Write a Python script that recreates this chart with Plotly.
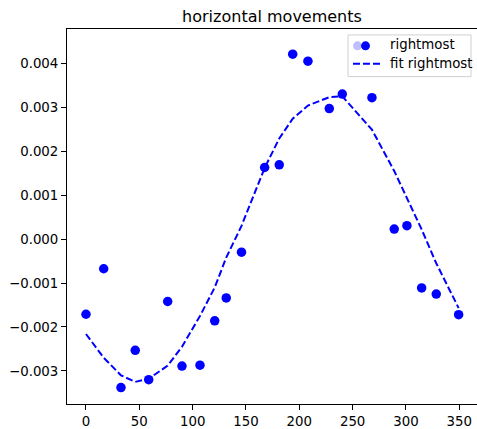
import plotly.graph_objects as go

# Sampled horizontal displacement of the rightmost point
x_pts = [0, 16.6, 32.8, 46.2, 58.8, 76.6, 90.0, 106.9, 120.7, 131.5, 145.8, 167.5,
         181.2, 193.8, 208.1, 228.1, 240.3, 268.1, 289.0, 300.9, 314.7, 328.4, 349.4]
y_pts = [-0.00171, -0.000675, -0.00338, -0.00253, -0.00320, -0.00142, -0.00289,
         -0.00287, -0.00186, -0.00134, -0.000298, 0.00163, 0.00169, 0.00421,
         0.00405, 0.00297, 0.00330, 0.00322, 0.000228, 0.000305, -0.00111,
         -0.00125, -0.00172]

# Fitted curve evaluated at the same sample positions
y_fit = [-0.00216, -0.00270, -0.00310, -0.00325, -0.00318, -0.00288, -0.00245,
         -0.00175, -0.00110, -0.00042, 0.00030, 0.00162, 0.00229, 0.00274,
         0.00304, 0.00323, 0.00325, 0.00249, 0.00155, 0.00094, 0.00022,
         -0.00055, -0.00157]

x_ticks = [0, 50, 100, 150, 200, 250, 300, 350]
y_ticks = [-0.003, -0.002, -0.001, 0.0, 0.001, 0.002, 0.003, 0.004]
y_tick_labels = ["\u22120.003", "\u22120.002", "\u22120.001", "0.000",
                 "0.001", "0.002", "0.003", "0.004"]

W, H = 477, 429
L, R, T, B = 67, 0, 29, 22
PW, PH = W - L - R, H - T - B
FONT = "DejaVu Sans"
FS = 13.33
DASH = "7px,3px"


def px_x(px):
    return (px - L) / PW


def px_y(py):
    return (H - B - py) / PH


fig = go.Figure()
fig.add_trace(go.Scatter(x=x_pts, y=y_pts, mode="markers", name="rightmost",
                         marker=dict(color="blue", size=9.5, line=dict(width=0))))
fig.add_trace(go.Scatter(x=x_pts, y=y_fit, mode="lines", name="fit rightmost",
                         line=dict(color="blue", width=2, dash=DASH)))

# Legend box drawn in the upper-right corner of the axes
shapes = [
    dict(type="rect", xref="paper", yref="paper",
         x0=px_x(348), x1=px_x(471), y0=px_y(77), y1=px_y(35),
         line=dict(color="#d0d0d0", width=1), fillcolor="rgba(255,255,255,0.8)",
         layer="above"),
    dict(type="circle", xref="paper", yref="paper", xsizemode="pixel",
         ysizemode="pixel", xanchor=px_x(357.5), yanchor=px_y(46),
         x0=-4.5, x1=4.5, y0=-4.5, y1=4.5,
         fillcolor="rgba(0,0,255,0.25)", line=dict(width=0), layer="above"),
    dict(type="circle", xref="paper", yref="paper", xsizemode="pixel",
         ysizemode="pixel", xanchor=px_x(365.5), yanchor=px_y(46),
         x0=-4.5, x1=4.5, y0=-4.5, y1=4.5,
         fillcolor="blue", line=dict(width=0), layer="above"),
    dict(type="line", xref="paper", yref="paper",
         x0=px_x(353), x1=px_x(380), y0=px_y(64), y1=px_y(64),
         line=dict(color="blue", width=2, dash=DASH), layer="above"),
]
annotations = [
    dict(text="rightmost", xref="paper", yref="paper", x=px_x(388), y=px_y(45),
         xanchor="left", yanchor="middle", showarrow=False,
         font=dict(family=FONT, size=FS, color="black")),
    dict(text="fit rightmost", xref="paper", yref="paper", x=px_x(388), y=px_y(63.5),
         xanchor="left", yanchor="middle", showarrow=False,
         font=dict(family=FONT, size=FS, color="black")),
]

fig.update_layout(
    width=W, height=H,
    margin=dict(l=L, r=R, t=T, b=B, pad=0),
    paper_bgcolor="white", plot_bgcolor="white",
    showlegend=False,
    font=dict(family=FONT, size=FS, color="black"),
    title=dict(text="horizontal movements", x=0.5, xref="paper",
               y=1 - 16 / H, yref="container", xanchor="center", yanchor="middle",
               font=dict(family=FONT, size=16, color="black")),
    shapes=shapes,
    annotations=annotations,
)
fig.update_xaxes(range=[-17.8, 366.6], tickvals=x_ticks, ticks="outside", ticklen=5,
                 tickwidth=1, tickcolor="black", showgrid=False, zeroline=False,
                 showline=True, linecolor="black", linewidth=1, mirror=True,
                 tickfont=dict(family=FONT, size=FS, color="black"))
fig.update_yaxes(range=[-0.003753, 0.004782], tickvals=y_ticks, ticktext=y_tick_labels,
                 ticks="outside", ticklen=5, tickwidth=1, tickcolor="black",
                 showgrid=False, zeroline=False, showline=True, linecolor="black",
                 linewidth=1, tickfont=dict(family=FONT, size=FS, color="black"))

fig.write_html("out.html")
